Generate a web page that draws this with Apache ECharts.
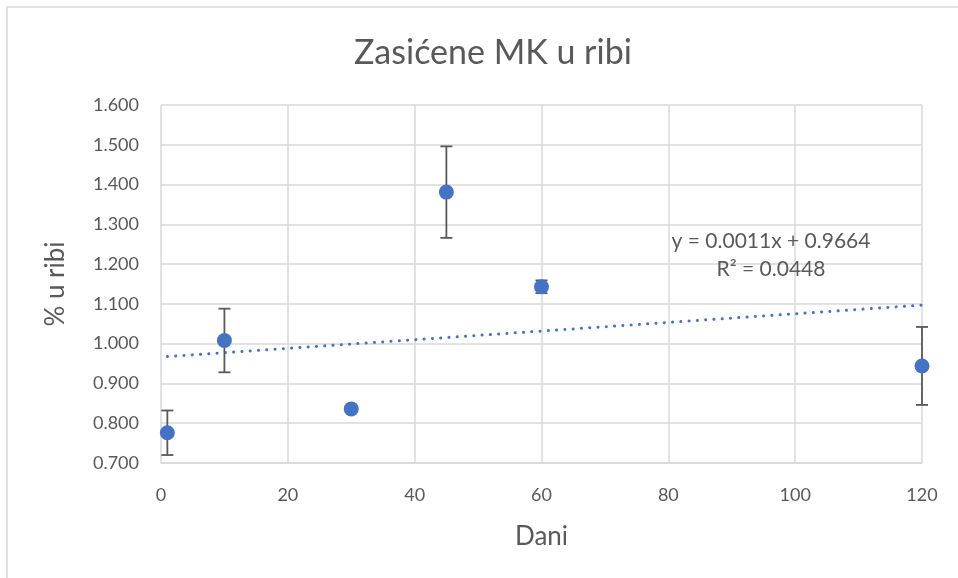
<!DOCTYPE html>
<html>
<head>
<meta charset="utf-8">
<script src="https://cdn.jsdelivr.net/npm/echarts@6/dist/echarts.min.js"></script>
<style>html,body{margin:0;padding:0;background:#fff}#c{width:958px;height:578px}</style>
</head>
<body>
<div id="c"></div>
<script>
const days = [1, 10, 30, 45, 60, 120];
const values = [0.776, 1.008, 0.836, 1.381, 1.143, 0.944];
const errors = [0.056, 0.080, 0, 0.115, 0.016, 0.098];
const titleText = 'Zasićene MK u ribi';
const xName = 'Dani';
const yName = '% u ribi';
const eqText = 'y = 0.0011x + 0.9664';
const r2Text = 'R² = 0.0448';

// linear regression from data
const n = days.length;
const mx = days.reduce((a, b) => a + b, 0) / n;
const my = values.reduce((a, b) => a + b, 0) / n;
let sxy = 0, sxx = 0;
for (let i = 0; i < n; i++) { sxy += (days[i] - mx) * (values[i] - my); sxx += (days[i] - mx) ** 2; }
const slope = sxy / sxx, intercept = my - slope * mx;
const xMin = Math.min(...days), xMax = Math.max(...days);
const trend = [[xMin, intercept + slope * xMin], [xMax, intercept + slope * xMax]];

const FONT = 'Lato';
const GREY = '#595959';
const BLUE = '#4472C4';

const chart = echarts.init(document.getElementById('c'));
chart.setOption({
  animation: false,
  backgroundColor: '#fff',
  textStyle: { fontFamily: FONT },
  title: {
    text: titleText, left: 349, top: 31,
    textStyle: { fontFamily: FONT, fontSize: 34, fontWeight: 'normal', color: GREY }
  },
  grid: { left: 161, right: 36, top: 105, bottom: 115 },
  xAxis: {
    type: 'value', min: 0, max: 120, interval: 20,
    name: xName, nameLocation: 'middle', nameGap: 61,
    nameTextStyle: { fontFamily: FONT, fontSize: 26, color: GREY },
    axisLine: { show: true, lineStyle: { color: '#D9D9D9', width: 1.5 } },
    axisTick: { show: false },
    axisLabel: { fontFamily: FONT, fontSize: 18, color: GREY, margin: 23 },
    splitLine: { show: true, lineStyle: { color: '#D9D9D9', width: 1.5 } }
  },
  yAxis: {
    type: 'value', min: 0.7, max: 1.6, interval: 0.1,
    name: yName, nameLocation: 'middle', nameGap: 92,
    nameTextStyle: { fontFamily: FONT, fontSize: 26, color: GREY },
    axisLine: { show: false },
    axisTick: { show: false },
    axisLabel: { fontFamily: FONT, fontSize: 18, color: GREY, margin: 22,
      formatter: v => v.toFixed(3) },
    splitLine: { show: true, lineStyle: { color: '#D9D9D9', width: 1.5 } }
  },
  graphic: [
    { type: 'rect', shape: { x: 7, y: 7, width: 2000, height: 2000 }, style: { fill: 'none', stroke: '#D9D9D9', lineWidth: 1.5 }, z: 100 },
    { type: 'text', x: 771, y: 241, style: { text: eqText, fill: GREY, font: '21px Lato', textAlign: 'center', textVerticalAlign: 'middle' }, z: 50 },
    { type: 'text', x: 771, y: 269, style: { text: r2Text, fill: GREY, font: '21px Lato', textAlign: 'center', textVerticalAlign: 'middle' }, z: 50 }
  ],
  series: [
    {
      type: 'line', data: trend, symbol: 'none', z: 2,
      lineStyle: { color: BLUE, width: 3, type: [0.1, 8.2], cap: 'round' }
    },
    {
      type: 'custom', z: 3,
      data: days.map((d, i) => [d, values[i] - errors[i], values[i] + errors[i]]),
      renderItem: (params, api) => {
        if (api.value(2) - api.value(1) < 1e-9) return null;
        const lo = api.coord([api.value(0), api.value(1)]);
        const hi = api.coord([api.value(0), api.value(2)]);
        const hw = 6;
        const st = { stroke: '#595959', lineWidth: 1.8 };
        return { type: 'group', children: [
          { type: 'line', shape: { x1: lo[0], y1: lo[1], x2: hi[0], y2: hi[1] }, style: st },
          { type: 'line', shape: { x1: lo[0] - hw, y1: lo[1], x2: lo[0] + hw, y2: lo[1] }, style: st },
          { type: 'line', shape: { x1: hi[0] - hw, y1: hi[1], x2: hi[0] + hw, y2: hi[1] }, style: st }
        ]};
      }
    },
    {
      type: 'scatter', z: 4,
      data: days.map((d, i) => [d, values[i]]),
      symbol: 'circle', symbolSize: 15,
      itemStyle: { color: BLUE, opacity: 1 }
    }
  ]
});
</script>
</body>
</html>
